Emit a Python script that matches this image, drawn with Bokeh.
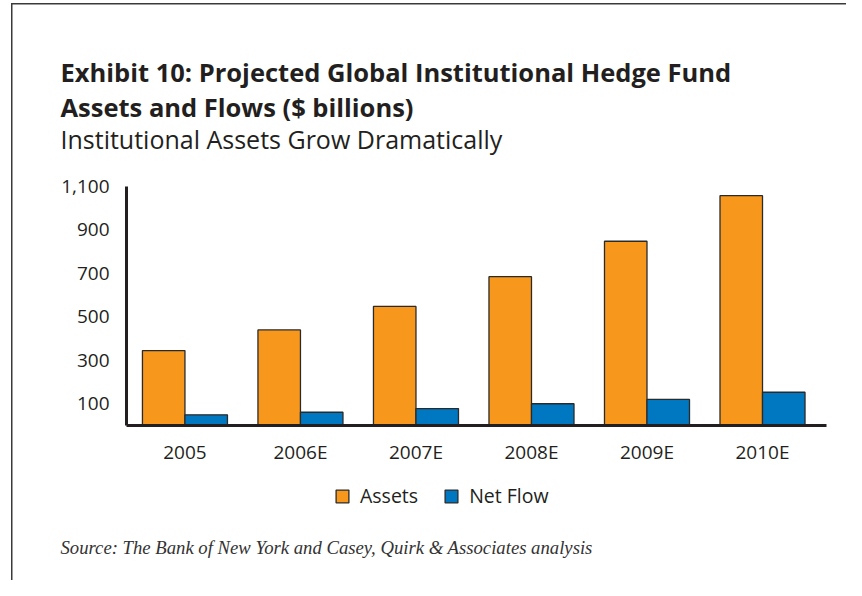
import numpy as np
from bokeh.plotting import figure
from bokeh.layouts import column
from bokeh.models import (ColumnDataSource, Range1d, FixedTicker, NumeralTickFormatter,
                          Label, Legend, LegendItem)
from bokeh.embed import file_html
from bokeh.resources import INLINE

# ---- data ----
years = ["2005", "2006E", "2007E", "2008E", "2009E", "2010E"]
assets = [345, 440, 548, 685, 848, 1058]
net_flow = [49, 61, 78, 100, 120, 153]
y_ticks = [100, 300, 500, 700, 900, 1100]
series_names = ["Assets", "Net Flow"]

title_line1 = "Exhibit 10: Projected Global Institutional Hedge Fund"
title_line2 = "Assets and Flows ($ billions)"
subtitle = "Institutional Assets Grow Dramatically"
source_note = "Source: The Bank of New York and Casey, Quirk & Associates analysis"

ORANGE = "#F7981D"
BLUE = "#0077C1"
EDGE = "#2a2a2a"
TEXT = "#231f20"
FONT = "Open Sans"
W = 846


def blank_fig(h):
    f = figure(width=W, height=h, output_backend="svg", toolbar_location=None,
               x_range=Range1d(0, W), y_range=Range1d(0, h),
               x_axis_location=None, y_axis_location=None,
               min_border=0, min_border_left=0, min_border_right=0,
               min_border_top=0, min_border_bottom=0)
    f.frame_align = False
    f.outline_line_color = None
    f.xgrid.visible = False
    f.ygrid.visible = False
    f.background_fill_color = None
    f.border_fill_color = None
    return f


# ---- title block ----
TOP_H = 166
top = blank_fig(TOP_H)
top.add_layout(Label(x=60, y=TOP_H - 71, text=title_line1, text_font=FONT,
                     text_font_style="bold", text_font_size="25.5px", text_color=TEXT,
                     text_baseline="alphabetic"))
top.add_layout(Label(x=60, y=TOP_H - 106, text=title_line2, text_font=FONT,
                     text_font_style="bold", text_font_size="25.5px", text_color=TEXT,
                     text_baseline="alphabetic"))
top.add_layout(Label(x=60, y=TOP_H - 138.5, text=subtitle, text_font=FONT,
                     text_font_size="25px", text_color=TEXT, text_baseline="alphabetic"))

# ---- chart ----
idx = np.arange(len(years))
bar_w = 0.368
src = ColumnDataSource(dict(
    xa=idx - bar_w / 2, xn=idx + bar_w / 2, assets=assets, net=net_flow, year=years))

p = figure(width=W, height=304, output_backend="svg", toolbar_location=None,
           x_range=Range1d(-0.506, 5.554), y_range=Range1d(0, 1100),
           min_border_left=126, min_border_right=20, min_border_top=20, min_border_bottom=45)
p.frame_align = False
p.border_fill_color = None
p.outline_line_color = None
p.xgrid.visible = False
p.ygrid.visible = False
p.background_fill_color = "white"

p.vbar(x="xa", top="assets", width=bar_w, bottom=0, source=src,
       fill_color=ORANGE, line_color=EDGE, line_width=1.3)
p.vbar(x="xn", top="net", width=bar_w, bottom=0, source=src,
       fill_color=BLUE, line_color=EDGE, line_width=1.3)

for ax in (p.xaxis[0], p.yaxis[0]):
    ax.axis_line_width = 3
    ax.axis_line_color = "#231f20"
    ax.major_tick_line_color = None
    ax.minor_tick_line_color = None
    ax.major_label_text_font = FONT
    ax.major_label_text_font_size = "19px"
    ax.major_label_text_color = TEXT

p.xaxis[0].ticker = FixedTicker(ticks=list(idx))
p.xaxis[0].major_label_overrides = {int(i): y for i, y in zip(idx, years)}
p.xaxis[0].major_label_standoff = 7
p.yaxis[0].ticker = FixedTicker(ticks=y_ticks)
p.yaxis[0].formatter = NumeralTickFormatter(format="0,0")
p.yaxis[0].major_label_standoff = 11

# ---- legend + source block ----
BOT_H = 110
bot = blank_fig(BOT_H)
# legend swatch renderers: NaN positions, so nothing is drawn in the block itself
swatch = ColumnDataSource(dict(x=[np.nan], top=[np.nan]))
la = bot.vbar(x="x", top="top", width=1, source=swatch, fill_color=ORANGE,
              line_color=EDGE, line_width=1.3)
ln = bot.vbar(x="x", top="top", width=1, source=swatch, fill_color=BLUE,
              line_color=EDGE, line_width=1.3)
legend = Legend(items=[LegendItem(label=series_names[0], renderers=[la]),
                       LegendItem(label=series_names[1], renderers=[ln])],
                orientation="horizontal", location=(334, 71),
                glyph_width=16, glyph_height=16, label_height=16,
                label_standoff=10, spacing=25, padding=0, margin=0,
                border_line_color=None, background_fill_alpha=0,
                label_text_font=FONT, label_text_font_size="19.5px", label_text_color=TEXT)
bot.add_layout(legend, "center")
bot.add_layout(Label(x=60, y=BOT_H - 547 + 470, text=source_note,
                     text_font="Liberation Serif", text_font_style="italic",
                     text_font_size="18.7px", text_color="#333333",
                     text_baseline="alphabetic"))

page = column(top, p, bot, spacing=0)
page.styles = {"background": "linear-gradient(#3a3a3a,#3a3a3a) 11px 3px / 1.5px 100% no-repeat, "
                             "linear-gradient(#3a3a3a,#3a3a3a) 11px 3px / 100% 1.5px no-repeat, white"}

open("out.html", "w").write(file_html(page, INLINE))
